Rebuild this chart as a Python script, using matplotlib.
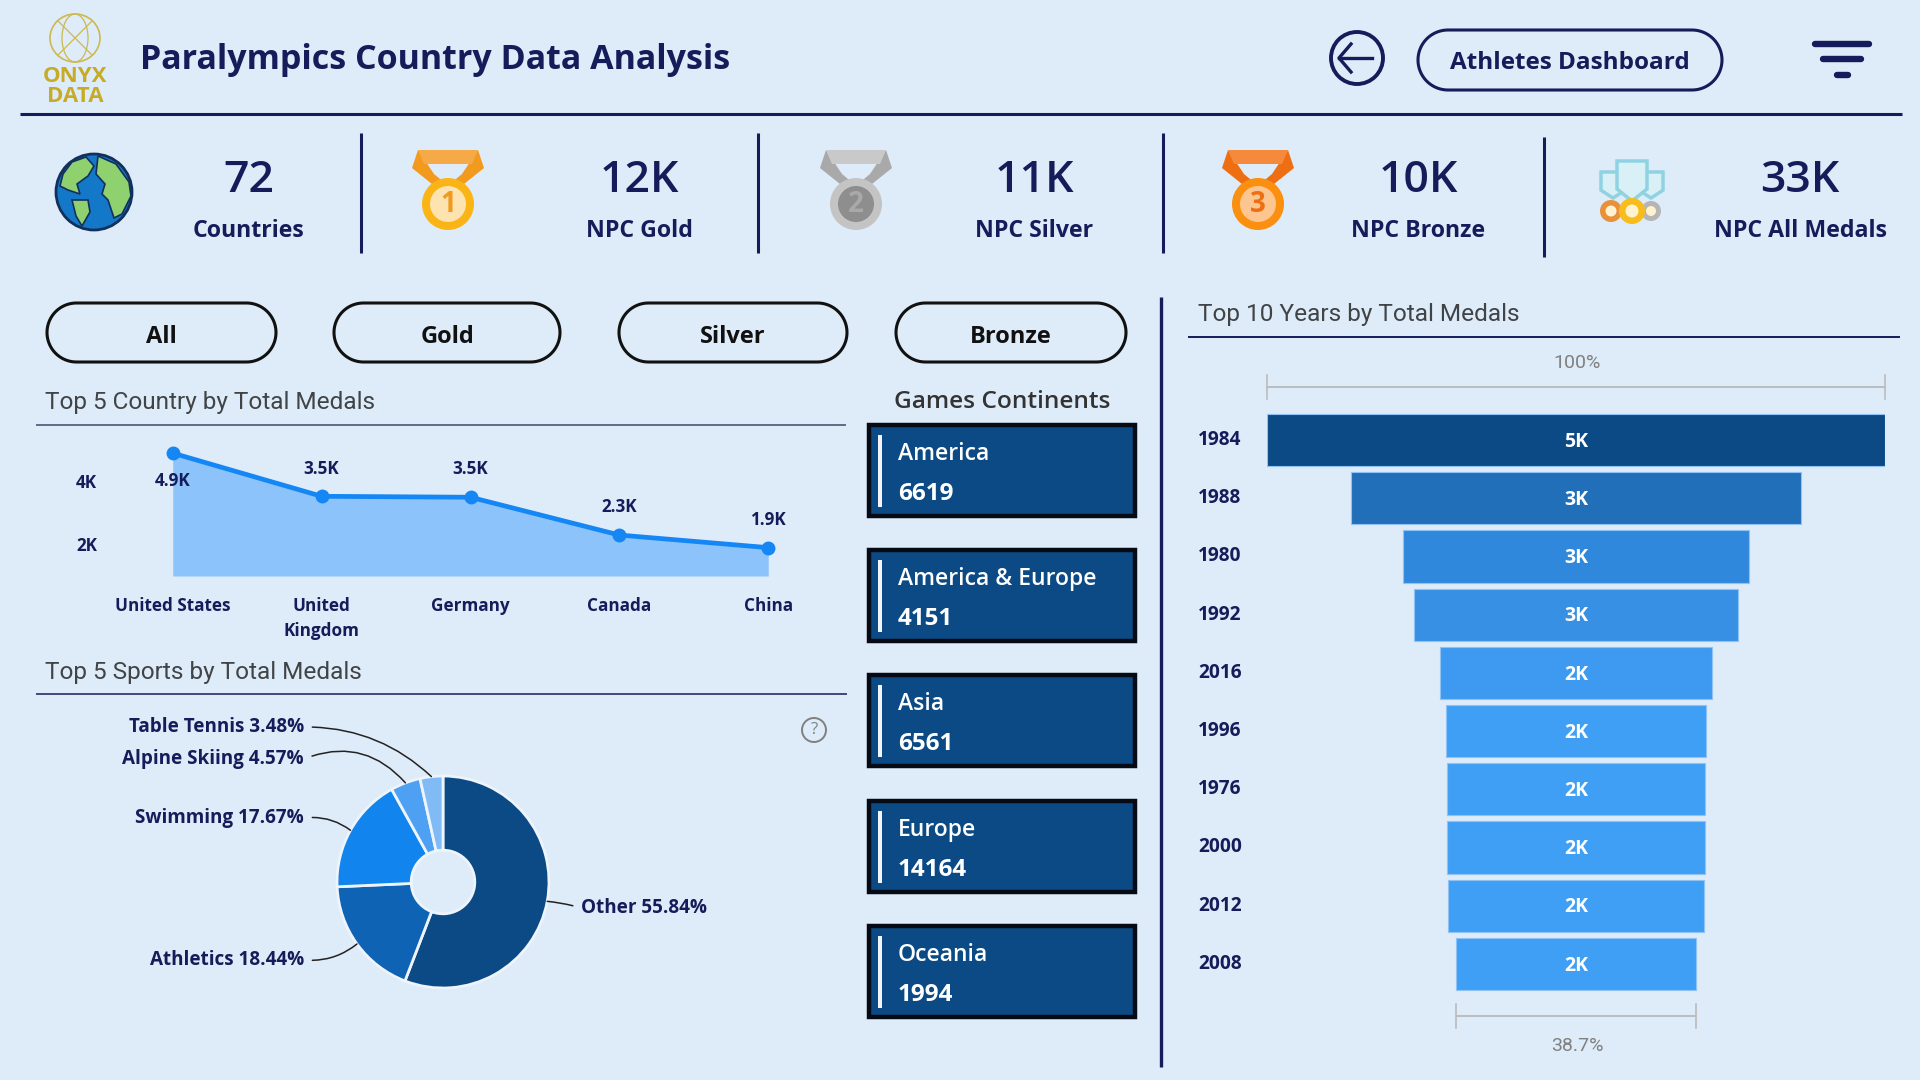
#!/usr/bin/env python3
import numpy as np
import matplotlib
matplotlib.use("Agg")
import matplotlib.pyplot as plt
from matplotlib.patches import Circle, Ellipse, Polygon, Rectangle

W, H = 1920, 1080
BG = "#deebf8"
NAVY = "#141c5a"
DARK_BLUE = "#0b4a85"
GREY_TITLE = "#404447"
FONT = "Open Sans"
TITLE_FONT = "Roboto"

kpi_values = ["72", "12K", "11K", "10K", "33K"]
kpi_labels = ["Countries", "NPC Gold", "NPC Silver", "NPC Bronze", "NPC All Medals"]

filter_labels = ["All", "Gold", "Silver", "Bronze"]

countries = ["United States", "United\nKingdom", "Germany", "Canada", "China"]
country_medals = [4900, 3530, 3500, 2300, 1900]

sports = ["Other", "Athletics", "Swimming", "Alpine Skiing", "Table Tennis"]
sport_shares = [55.84, 18.44, 17.67, 4.57, 3.48]
sport_colors = ["#0b4a85", "#0f63b5", "#1284ee", "#4ea0f2", "#80bbf5"]

continents = ["America", "America & Europe", "Asia", "Europe", "Oceania"]
continent_medals = [6619, 4151, 6561, 14164, 1994]

years = ["1984", "1988", "1980", "1992", "2016", "1996", "1976", "2000", "2012", "2008"]
year_medals = [4800, 3495, 2688, 2515, 2112, 2016, 2009, 2000, 1982, 1858]
year_colors = ["#0b4a85", "#216fb8", "#3088dc", "#3890e4", "#3d9af0",
               "#3f9ff5", "#3f9ff5", "#3f9ff5", "#3f9ff5", "#3f9ff5"]


def px_axes(fig, x0, y0, x1, y1):
    # box given in picture pixels, y going down
    ax = fig.add_axes([x0 / W, 1 - y1 / H, (x1 - x0) / W, (y1 - y0) / H])
    ax.patch.set_alpha(0)
    return ax


def label(ax, x, y, s, size=14, color=NAVY, weight="semibold", ha="center", family=FONT, **kw):
    return ax.text(x, y, s, fontsize=size, color=color, fontweight=weight, ha=ha,
                   va="center", family=family, **kw)


def pill(ax, x0, y0, x1, y1, color="#111111", lw=2.2):
    r = (y1 - y0) / 2
    t = np.linspace(-np.pi / 2, np.pi / 2, 40)
    cy = (y0 + y1) / 2
    right = np.column_stack([x1 - r + r * np.cos(t), cy + r * np.sin(t)])
    left = np.column_stack([x0 + r - r * np.cos(t), cy - r * np.sin(t)])
    ax.add_patch(Polygon(np.vstack([right, left]), closed=True, fc="none", ec=color, lw=lw))


def draw_globe(ax, cx, cy, r):
    ax.add_patch(Circle((cx, cy), r, fc="#1478c8", ec="#12305c", lw=2))
    lands = [
        [(-31, -18), (-22, -30), (-8, -35), (0, -26), (-6, -16), (-17, -8), (-14, 2), (-26, -2), (-34, -6)],
        [(-22, 8), (-6, 8), (-4, 20), (-12, 34), (-18, 24)],
        [(4, -36), (22, -28), (35, -10), (37, 4), (28, 22), (20, 26), (14, 8), (8, 2), (11, -8), (2, -18)],
    ]
    for pts in lands:
        ax.add_patch(Polygon([(cx + a, cy + b) for a, b in pts], fc="#8ed16e", ec="#12305c", lw=1.2))


def draw_medal(ax, cx, top, cy, num, ribbon, band, disc, inner):
    ax.add_patch(Polygon([(cx - 36, top + 18), (cx - 30, top), (cx - 14, top + 24), (cx - 2, cy - 20),
                          (cx - 16, cy - 20)], fc=ribbon, ec="none"))
    ax.add_patch(Polygon([(cx + 36, top + 18), (cx + 30, top), (cx + 14, top + 24), (cx + 2, cy - 20),
                          (cx + 16, cy - 20)], fc=ribbon, ec="none"))
    ax.add_patch(Polygon([(cx - 30, top), (cx + 30, top), (cx + 24, top + 14), (cx - 24, top + 14)],
                         fc=band, ec="none"))
    ax.add_patch(Circle((cx, cy), 26, fc=disc, ec="none"))
    ax.add_patch(Circle((cx, cy), 18, fc=inner, ec="none"))
    label(ax, cx, cy + 1, num, size=20, color=ribbon, weight="bold")


def draw_trophies(ax, cx):
    for dx, y0, w, h in [(-19, 172, 12, 26), (19, 172, 12, 26), (0, 161, 15, 40)]:
        ax.add_patch(Polygon([(cx + dx - w, y0), (cx + dx + w, y0), (cx + dx + w, y0 + h * 0.7),
                              (cx + dx, y0 + h), (cx + dx - w, y0 + h * 0.7)],
                             fc="#d8f0f6", ec="#8fd3e2", lw=2.5))
    for dx, c, r in [(-21, "#e8913a", 11), (19, "#b5b5b5", 10), (0, "#f8bd1c", 13)]:
        ax.add_patch(Circle((cx + dx, 211), r, fc=c, ec="none"))
        ax.add_patch(Circle((cx + dx, 211), r * 0.5, fc="#fff2d0", ec="none"))


def draw_chrome(ax):
    # header
    ax.add_patch(Ellipse((75, 38), 50, 48, fc="none", ec="#cdb94e", lw=1.2))
    ax.add_patch(Ellipse((75, 38), 26, 48, fc="none", ec="#cdb94e", lw=0.9))
    ax.plot([58, 92], [21, 55], color="#cdb94e", lw=0.9)
    ax.plot([58, 92], [55, 21], color="#cdb94e", lw=0.9)
    label(ax, 75, 77, "ONYX", size=16, color="#c8ab25", weight="bold")
    label(ax, 75, 96, "DATA", size=16, color="#c8ab25", weight="bold")
    label(ax, 140, 60, "Paralympics Country Data Analysis", size=24.5, weight="bold", ha="left")
    ax.plot([20, 1902], [114, 114], color=NAVY, lw=2.2, solid_capstyle="butt")

    ax.add_patch(Circle((1357, 58), 26, fc="none", ec=NAVY, lw=2.8))
    ax.plot([1339, 1372], [58, 58], color=NAVY, lw=2.4)
    ax.plot([1351, 1339, 1351], [44, 58, 72], color=NAVY, lw=2.4)
    pill(ax, 1418, 30, 1722, 90, color=NAVY, lw=2.2)
    label(ax, 1570, 63, "Athletes Dashboard", size=17.5, weight="bold")
    for x0, x1, y in [(1815, 1869, 44), (1823, 1861, 59), (1837, 1848, 75)]:
        ax.plot([x0, x1], [y, y], color=NAVY, lw=4.6, solid_capstyle="round")

    # kpi strip
    for x, y0, y1 in [(361, 133, 253), (758, 133, 253), (1163, 133, 253), (1544, 137, 257)]:
        ax.plot([x, x], [y0, y1], color=NAVY, lw=2.2, solid_capstyle="butt")
    for x, val, name in zip([249, 639, 1034, 1418, 1800], kpi_values, kpi_labels):
        label(ax, x, 180, val, size=32, weight="semibold")
        label(ax, x, 231, name, size=16.7, weight="bold")
    draw_globe(ax, 94, 192, 38)
    draw_medal(ax, 448, 150, 204, "1", "#f29a1e", "#f5a947", "#fbb416", "#fde3b0")
    draw_medal(ax, 856, 150, 204, "2", "#a9a9a9", "#c9c9c9", "#c4c4c4", "#8e8e8e")
    draw_medal(ax, 1258, 150, 204, "3", "#ee6f12", "#f58a3c", "#fb8f10", "#fdc58f")
    draw_trophies(ax, 1632)

    # filter buttons
    for (x0, x1), name in zip([(47, 276), (334, 560), (619, 847), (896, 1126)], filter_labels):
        pill(ax, x0, 303, x1, 362)
        label(ax, (x0 + x1) / 2, 337, name, size=17, color="#111111", weight="bold")

    # section titles
    for x, y, s in [(45, 403, "Top 5 Country by Total Medals"),
                    (45, 673, "Top 5 Sports by Total Medals"),
                    (1198, 315, "Top 10 Years by Total Medals")]:
        label(ax, x, y, s, size=17.6, color=GREY_TITLE, weight="normal", ha="left", family=TITLE_FONT)
    ax.plot([37, 845], [424.5, 424.5], color="#5c6a8c", lw=1.4)
    ax.plot([37, 846], [694, 694], color="#3c4a78", lw=1.4)
    ax.plot([1189, 1899], [337, 337], color=NAVY, lw=1.4)
    ax.plot([1161, 1161], [297, 1067], color=NAVY, lw=2.4, solid_capstyle="butt")

    ax.add_patch(Circle((814, 730), 12, fc="none", ec="#808080", lw=1.4))
    label(ax, 814, 730, "?", size=12, color="#808080", weight="normal")


def draw_cards(ax):
    label(ax, 1002, 402, "Games Continents", size=17.6, color="#333333", weight="semibold")
    for top, name, val in zip([424, 549, 674, 800, 925], continents, continent_medals):
        ax.add_patch(Rectangle((869, top + 1), 266, 91, fc=DARK_BLUE, ec="#050a14", lw=3.2))
        ax.add_patch(Rectangle((878, top + 11), 4, 72, fc="#f2f6fb", ec="none"))
        label(ax, 898, top + 30, name, size=16.5, color="white", ha="left")
        label(ax, 898, top + 70, str(val), size=17.5, color="white", weight="bold", ha="left")


def draw_line_chart(fig):
    # one K is 31.5 px, the filled area stops at 1K
    ax = px_axes(fig, 143, 444, 798, 576)
    x = np.arange(len(countries))
    ax.fill_between(x, 1000, country_medals, color="#8cc3fb", lw=0)
    ax.plot(x, country_medals, color="#1487f5", lw=3.4, marker="o", ms=9, clip_on=False)
    ax.set_xlim(-0.2, 4.2)
    ax.set_ylim(1000, 5190)
    for spine in ax.spines.values():
        spine.set_visible(False)
    ax.set_xticks(x, countries)
    ax.set_yticks([2000, 4000], ["2K", "4K"])
    ax.tick_params(length=0)
    ax.tick_params(axis="x", pad=15)
    ax.tick_params(axis="y", pad=33)
    for t in ax.get_xticklabels() + ax.get_yticklabels():
        t.set(fontsize=12.3, color=NAVY, fontweight="bold", family=FONT, linespacing=1.5)
    for i, v in enumerate(country_medals):
        dy = -20 if i == 0 else 20
        ax.annotate(f"{v / 1000:.1f}K", (i, v), xytext=(0, dy), textcoords="offset points",
                    ha="center", va="center", fontsize=12.3, color=NAVY,
                    fontweight="bold", family=FONT)


def draw_donut(fig, bg):
    ax = px_axes(fig, 337, 776, 549, 988)
    wedges, _ = ax.pie(sport_shares, colors=sport_colors, startangle=90, counterclock=False,
                       radius=1, wedgeprops=dict(width=0.7, edgecolor="#eef4fb", linewidth=2))
    ax.set_xlim(-1, 1)
    ax.set_ylim(-1, 1)
    spots = [(581, 908), (304, 960), (304, 818), (304, 759), (304, 727)]
    bends = [0.05, 0.2, -0.2, -0.35, -0.2]
    for w, name, share, spot, bend in zip(wedges, sports, sport_shares, spots, bends):
        a = np.deg2rad((w.theta1 + w.theta2) / 2)
        left = spot[0] < 443
        ax.annotate(f"{name} {share:.2f}%", xy=(np.cos(a), np.sin(a)), xycoords="data",
                    xytext=spot, textcoords=bg.transData,
                    ha="right" if left else "left", va="center", fontsize=13.6, color=NAVY,
                    fontweight="bold", family=FONT, annotation_clip=False,
                    arrowprops=dict(arrowstyle="-", color="#222222", lw=1.1,
                                    relpos=(1, 0.5) if left else (0, 0.5),
                                    connectionstyle=f"arc3,rad={bend}",
                                    shrinkA=4, shrinkB=0))


def draw_funnel(fig, bg):
    ax = px_axes(fig, 1267, 411, 1885, 993)
    top = year_medals[0]
    last = year_medals[-1]
    y = np.arange(len(years))
    ax.barh(y, year_medals, left=[-v / 2 for v in year_medals], height=0.9,
            color=year_colors, edgecolor="#8fc3f5", linewidth=0.8)
    ax.set_xlim(-top / 2, top / 2)
    ax.set_ylim(9.5, -0.5)
    ax.axis("off")
    for i, (yr, v) in enumerate(zip(years, year_medals)):
        ax.text(0, i + 0.03, f"{round(v / 1000)}K", color="white", fontsize=14, fontweight="bold",
                ha="center", va="center", family=FONT)
        ax.text(-top / 2 - 69 / 617 * top, i, yr, color=NAVY, fontsize=13.8, fontweight="bold",
                ha="left", va="center", family=FONT)

    # span brackets over the first and under the last bar, y in picture pixels
    trans = ax.get_xaxis_transform()
    for v, yb in [(top, 387), (last, 1016)]:
        yb_ax = (993 - yb) / (993 - 411)
        dy = 12 / (993 - 411)
        ax.plot([-v / 2, v / 2], [yb_ax, yb_ax], color="#bcbcbc", lw=1.4, transform=trans, clip_on=False)
        for xe in (-v / 2, v / 2):
            ax.plot([xe, xe], [yb_ax - dy, yb_ax + dy], color="#bcbcbc", lw=1.2, transform=trans, clip_on=False)
    label(bg, 1577, 363, "100%", size=14, color="#808080", weight="normal", family=TITLE_FONT)
    label(bg, 1577, 1046, f"{last / top:.1%}", size=14, color="#808080", weight="normal", family=TITLE_FONT)


def main():
    fig = plt.figure(figsize=(W / 100, H / 100), dpi=100, facecolor=BG)
    bg = fig.add_axes([0, 0, 1, 1])
    bg.set_xlim(0, W)
    bg.set_ylim(H, 0)
    bg.axis("off")

    draw_chrome(bg)
    draw_cards(bg)
    draw_line_chart(fig)
    draw_donut(fig, bg)
    draw_funnel(fig, bg)

    fig.savefig("out.png", dpi=100, facecolor=BG)


if __name__ == "__main__":
    main()
